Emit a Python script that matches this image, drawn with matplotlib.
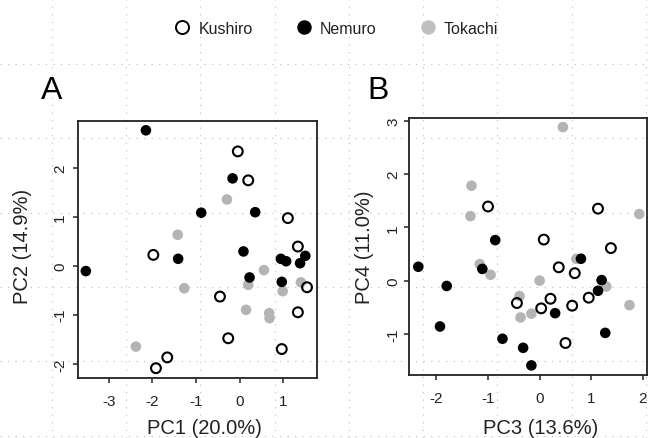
import numpy as np
import matplotlib
matplotlib.use("Agg")
import matplotlib.pyplot as plt
from matplotlib.lines import Line2D

plt.rcParams['font.family'] = ['Liberation Sans', 'DejaVu Sans']
plt.rcParams['axes.unicode_minus'] = False

# PC1 / PC2 scores (panel A)
kushiro_pc1 = [-0.04, 0.20, 1.11, -1.98, 1.34, 1.55, -0.45, 1.34, -0.26, 0.97, -1.66, -1.92]
kushiro_pc2 = [2.33, 1.74, 0.97, 0.22, 0.39, -0.44, -0.63, -0.95, -1.48, -1.70, -1.87, -2.09]
nemuro_pc1 = [-2.15, -0.16, -0.88, 0.36, -1.41, -3.53, 0.09, 1.51, 0.95, 1.07, 1.39, 0.23, 0.97]
nemuro_pc2 = [2.76, 1.78, 1.08, 1.09, 0.14, -0.11, 0.29, 0.20, 0.14, 0.09, 0.05, -0.24, -0.33]
tokachi_pc1 = [-0.29, -1.42, 0.56, 1.41, -1.27, 0.20, 0.99, 0.15, 0.68, 0.69, -2.38]
tokachi_pc2 = [1.35, 0.63, -0.09, -0.34, -0.46, -0.39, -0.52, -0.90, -0.97, -1.07, -1.65]

# PC3 / PC4 scores (panel B)
kushiro_pc3 = [-1.00, 1.13, 0.08, 1.38, 0.37, 0.68, -0.44, 0.21, 0.03, 0.95, 0.63, 0.50]
kushiro_pc4 = [1.39, 1.35, 0.77, 0.61, 0.25, 0.14, -0.42, -0.34, -0.52, -0.32, -0.47, -1.17]
nemuro_pc3 = [-0.86, -2.35, -1.11, 0.80, 1.20, -1.80, 1.13, 0.30, -1.93, 1.27, -0.72, -0.32, -0.16]
nemuro_pc4 = [0.76, 0.26, 0.22, 0.41, 0.01, -0.10, -0.19, -0.61, -0.86, -0.98, -1.09, -1.26, -1.59]
tokachi_pc3 = [0.45, -1.32, -1.34, 1.93, -1.16, -0.95, 0.71, 0.00, 1.29, -0.39, -0.37, -0.16, 1.74]
tokachi_pc4 = [2.88, 1.78, 1.21, 1.25, 0.31, 0.11, 0.41, 0.00, -0.11, -0.29, -0.69, -0.62, -0.46]

groups = ['Kushiro', 'Nemuro', 'Tokachi']
gray = '#b4b4b4'
dark = '#222222'

fig = plt.figure(figsize=(6.49, 4.39), dpi=100)

# dotted background grid over the whole figure
bg = fig.add_axes([0, 0, 1, 1], zorder=-1)
bg.set_xlim(0, 649)
bg.set_ylim(439, 0)
bg.axis('off')
for gx in np.arange(51.7, 649, 74.3):
    bg.axvline(gx, color='#bdbdbd', lw=0.8, ls=(0, (1, 5.8)))
for gy in np.arange(65, 439, 74.3):
    bg.axhline(gy, color='#bdbdbd', lw=0.8, ls=(0, (1, 5.8)))


def panel(rect, xs, ys, xlim, ylim, xticks, yticks, xlabel, ylabel, xlab_pos, ylab_pos, ypad):
    ax = fig.add_axes(rect)
    ax.set_facecolor('none')
    ax.scatter(xs[2], ys[2], s=58, c=gray, edgecolors='none', zorder=2)
    ax.scatter(xs[1], ys[1], s=58, c='black', edgecolors='none', zorder=3)
    ax.scatter(xs[0], ys[0], s=50, facecolors='none', edgecolors='black', linewidths=1.5, zorder=4)
    ax.set_xlim(xlim)
    ax.set_ylim(ylim)
    ax.set_xticks(xticks)
    ax.set_yticks(yticks)
    for sp in ax.spines.values():
        sp.set_linewidth(1.3)
        sp.set_color(dark)
    ax.tick_params(axis='both', direction='out', length=3.3, width=1.1, color=dark,
                   labelsize=11, labelcolor='#222222')
    ax.tick_params(axis='x', pad=8)
    ax.tick_params(axis='y', pad=ypad)
    for lab in ax.get_yticklabels():
        lab.set_rotation(90)
        lab.set_va('center')
    ax.set_xlabel(xlabel, fontsize=14.5, color='#222222')
    ax.set_ylabel(ylabel, fontsize=14.5, color='#222222')
    ax.xaxis.set_label_coords(*xlab_pos)
    ax.yaxis.set_label_coords(*ylab_pos)
    return ax


panel([0.1202, 0.1367, 0.3683, 0.5854],
      [kushiro_pc1, nemuro_pc1, tokachi_pc1], [kushiro_pc2, nemuro_pc2, tokachi_pc2],
      (-3.71, 1.78), (-2.29, 2.95), [-3, -2, -1, 0, 1], [-2, -1, 0, 1, 2],
      'PC1 (20.0%)', 'PC2 (14.9%)', (0.527, -0.156), (-0.192, 0.514), 4.5)

panel([0.6302, 0.1435, 0.3668, 0.5854],
      [kushiro_pc3, nemuro_pc3, tokachi_pc3], [kushiro_pc4, nemuro_pc4, tokachi_pc4],
      (-2.53, 2.08), (-1.77, 3.05), [-2, -1, 0, 1, 2], [-1, 0, 1, 2, 3],
      'PC3 (13.6%)', 'PC4 (11.0%)', (0.552, -0.167), (-0.146, 0.502), 3.0)

fig.text(40.7 / 649, 1 - 99.3 / 439, 'A', fontsize=23, va='baseline', ha='left')
fig.text(367.7 / 649, 1 - 99.0 / 439, 'B', fontsize=23, va='baseline', ha='left')

handles = [
    Line2D([], [], ls='none', marker='o', ms=9.4, mfc='white', mec='black', mew=1.4),
    Line2D([], [], ls='none', marker='o', ms=9.4, mfc='black', mec='black'),
    Line2D([], [], ls='none', marker='o', ms=9.4, mfc='#c0c0c0', mec='#c0c0c0'),
]
fig.legend(handles, groups, loc='center', bbox_to_anchor=(0.518, 1 - 29 / 439), ncol=3,
           frameon=False, fontsize=11.5, handlelength=1.0, handletextpad=0.5,
           columnspacing=2.7, labelcolor='#222222')

fig.savefig('out.png', dpi=100)
